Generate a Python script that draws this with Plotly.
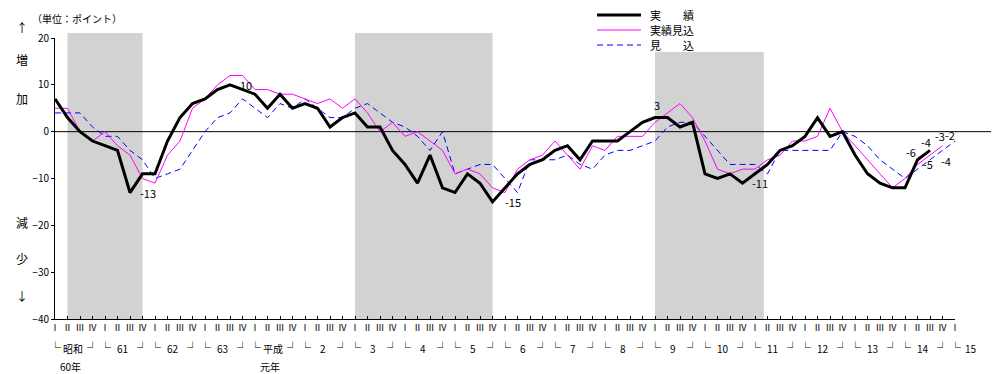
import plotly.graph_objects as go

# ---------------- data ----------------
year_labels = ["昭和", "61", "62", "63", "平成", "2", "3", "4", "5", "6", "7",
               "8", "9", "10", "11", "12", "13", "14", "15"]
year_sub = {0: "60年", 4: "元年"}
quarter_names = ["Ⅰ", "Ⅱ", "Ⅲ", "Ⅳ"]
n_quarters = 73  # 昭和60年Ⅰ期 .. 平成15年Ⅰ期

# 実績 (actual)
jisseki = [7, 3, 0, -2, -3, -4, -13, -9, -9, -2,
           3, 6, 7, 9, 10, 9, 8, 5, 8, 5,
           6, 5, 1, 3, 4, 1, 1, -4, -7, -11,
           -5, -12, -13, -9, -11, -15, -12, -9, -7, -6,
           -4, -3, -6, -2, -2, -2, 0, 2, 3, 3,
           1, 2, -9, -10, -9, -11, -9, -7, -4, -3,
           -1, 3, -1, 0, -5, -9, -11, -12, -12, -6,
           -4]

# 実績見込 (estimated actual)
jisseki_mikomi = [5, 5, 0, -2, 0, -3, -5, -10, -11, -5,
                  -2, 5, 7, 10, 12, 12, 9, 9, 8, 8,
                  7, 6, 7, 5, 7, 4, 0, 2, -1, 0,
                  -2, -4, -9, -8, -9, -12, -13, -8, -6, -5,
                  -2, -5, -8, -3, -4, -1, -1, -1, 2, 4,
                  6, 3, -2, -8, -9, -8, -8, -6, -5, -2,
                  -2, -1, 5, 0, None, None, None, -12, -10, -7,
                  -5, -3]

# 見込 (forecast)
mikomi = [4, 4, 4, 1, -1, -1, -4, -6, -10, -9,
          -8, -4, 0, 3, 4, 7, 5, 3, 6, 5,
          7, 5, 3, 3, 5, 6, 4, 2, 1, -1,
          -4, 0, -9, -8, -7, -7, -10, -13, -6, -6,
          -6, -5, -7, -8, -5, -4, -4, -3, -2, 1,
          2, 2, -1, -4, -7, -7, -7, -9, -4, -4,
          -4, -4, -4, 0, -1, -3, -6, -8, -10, -8,
          -6, -4, -2]

# recession periods (quarter index from, to)
recessions = [(1, 7), (24, 35), (48, 56.7)]

# labelled points: (series, quarter index, xshift, yshift, xanchor)
point_labels = [
    ("jisseki", 6, 8, 0, "left"),
    ("jisseki", 14, 8, 0, "left"),
    ("jisseki", 35, 10, 0, "left"),
    ("jisseki", 48, 2, 13, "center"),
    ("jisseki", 55, 7, 0, "left"),
    ("jisseki", 69, -7, 8, "center"),
    ("jisseki", 70, -4, 8, "center"),
    ("jisseki_mikomi", 70, -2, -9, "center"),
    ("jisseki_mikomi", 71, -3, 10, "center"),
    ("mikomi", 72, -5, 6, "center"),
    ("mikomi", 71, 3, -11, "center"),
]

Y_MIN, Y_MAX = -40, 20

# ---------------- layout helpers ----------------
# the page body adds an 8px offset; the figure is sized so the plot sits at
# screen x 55..955 and y 38..319
OX, OY = 8, 8
W, H = 991, 366
L, T = 55 - OX, 38 - OY
R = W - (955 - OX)
B = H - (319 - OY)
PW, PH = W - L - R, H - T - B


def px(xp):
    return (xp - OX - L) / PW


def py(yp):
    return (H - B - (yp - OY)) / PH


FONT = "Noto Sans CJK JP, Noto Sans, sans-serif"
series = {"jisseki": jisseki, "jisseki_mikomi": jisseki_mikomi, "mikomi": mikomi}
xs = list(range(n_quarters))

fig = go.Figure()
fig.add_trace(go.Scatter(x=xs[:len(mikomi)], y=mikomi, mode="lines", name="見　　込",
                         line=dict(color="#0000ff", width=1, dash="6px,4px"),
                         showlegend=False))
fig.add_trace(go.Scatter(x=xs[:len(jisseki_mikomi)], y=jisseki_mikomi, mode="lines",
                         name="実績見込", connectgaps=True,
                         line=dict(color="#ff00ff", width=1), showlegend=False))
fig.add_trace(go.Scatter(x=xs[:len(jisseki)], y=jisseki, mode="lines", name="実　　績",
                         line=dict(color="#000000", width=3), showlegend=False))

shapes = []
for a, b in recessions:
    shapes.append(dict(type="rect", xref="x", yref="paper", x0=a, x1=b,
                       y0=0, y1=py(33), fillcolor="#d2d2d2", line=dict(width=0),
                       layer="below"))
# zero line, running past the right end of the axis
zero_y = (0 - Y_MIN) / (Y_MAX - Y_MIN)
shapes.append(dict(type="line", xref="paper", yref="paper", x0=0, x1=px(996),
                   y0=zero_y, y1=zero_y, line=dict(color="black", width=1), layer="below"))
# legend box and samples
shapes.append(dict(type="rect", xref="paper", yref="paper", x0=px(590), x1=px(775),
                   y0=py(52), y1=py(8), fillcolor="white", line=dict(width=0),
                   layer="below"))
legend_items = [("実　　績", "#000000", 3, "solid", 15),
                ("実績見込", "#ff00ff", 1, "solid", 30),
                ("見　　込", "#0000ff", 1, "6px,4px", 45)]
annotations = []
for text, col, wdt, dash, yy in legend_items:
    shapes.append(dict(type="line", xref="paper", yref="paper", x0=px(597), x1=px(641),
                       y0=py(yy), y1=py(yy), line=dict(color=col, width=wdt, dash=dash)))
    annotations.append(dict(text=text, xref="paper", yref="paper", x=px(649), y=py(yy),
                            xanchor="left", yanchor="middle", showarrow=False,
                            borderpad=0,
                            font=dict(size=11, color="black", family=FONT)))

# year labels under the axis
for j, lab in enumerate(year_labels):
    k0 = 4 * j
    annotations.append(dict(text="└", xref="x", yref="paper", x=k0, y=py(347),
                            xanchor="center", yanchor="middle", showarrow=False,
                            font=dict(size=11, family=FONT)))
    if k0 + 3 < n_quarters:
        annotations.append(dict(text="┘", xref="x", yref="paper", x=k0 + 3, y=py(347),
                                xanchor="center", yanchor="middle", showarrow=False,
                                font=dict(size=11, family=FONT)))
    if k0 + 1.4 <= xs[-1]:
        annotations.append(dict(text=lab, xref="x", yref="paper", x=k0 + 1.4, y=py(348),
                                xanchor="center", yanchor="middle", showarrow=False,
                                font=dict(size=10, family=FONT)))
    else:
        # beyond the last quarter of the axis: place in paper space
        annotations.append(dict(text=lab, xref="paper", yref="paper", x=px(971),
                                y=py(348), xanchor="center", yanchor="middle",
                                showarrow=False, font=dict(size=10, family=FONT)))
    if j in year_sub:
        annotations.append(dict(text=year_sub[j], xref="x", yref="paper", x=k0 + 1.2,
                                y=py(366), xanchor="center", yanchor="middle",
                                showarrow=False, font=dict(size=10, family=FONT)))

# unit and side labels
annotations.append(dict(text="（単位：ポイント）", xref="paper", yref="paper", x=px(30),
                        y=py(18), xanchor="left", yanchor="middle", showarrow=False,
                        font=dict(size=10, family=FONT)))
for txt, yy in [("↑", 27), ("増", 60), ("加", 98), ("減", 222), ("少", 258), ("↓", 295)]:
    annotations.append(dict(text=txt, xref="paper", yref="paper", x=px(22), y=py(yy),
                            xanchor="center", yanchor="middle", showarrow=False,
                            font=dict(size=12, family=FONT)))

# point labels
for name, k, dx, dy, anchor in point_labels:
    v = series[name][k]
    annotations.append(dict(text=str(v), xref="x", yref="y", x=k, y=v, xshift=dx,
                            yshift=dy, xanchor=anchor, yanchor="middle", showarrow=False,
                            font=dict(size=11, family=FONT)))

fig.update_layout(
    template="none",
    width=W, height=H, margin=dict(l=L, r=R, t=T, b=B, autoexpand=False),
    paper_bgcolor="white", plot_bgcolor="rgba(0,0,0,0)",
    shapes=shapes, annotations=annotations, showlegend=False,
    font=dict(family=FONT, color="black"),
)
fig.update_xaxes(range=[0, 72], tickvals=xs, automargin=False,
                 ticktext=[quarter_names[k % 4] for k in xs],
                 ticks="inside", ticklen=3, tickcolor="black", showline=True,
                 linecolor="black", linewidth=1, showgrid=False, zeroline=False,
                 tickfont=dict(size=9, family=FONT), tickangle=0)
fig.update_yaxes(range=[Y_MIN, Y_MAX], dtick=10, ticks="outside", ticklen=3,
                 automargin=False, tickcolor="black", showline=True, linecolor="black",
                 linewidth=1, showgrid=False, zeroline=False,
                 tickfont=dict(size=10, family=FONT))

fig.write_html("out.html")
